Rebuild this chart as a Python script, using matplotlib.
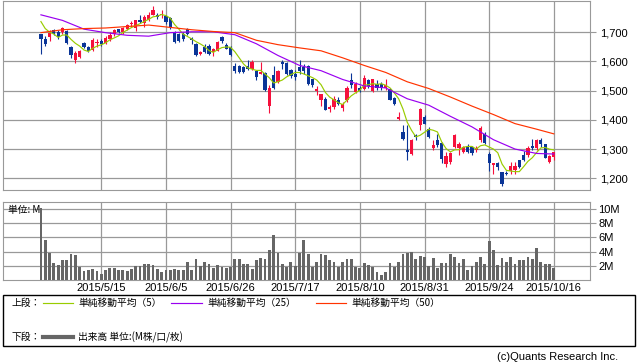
import matplotlib
matplotlib.use("Agg")
import matplotlib.pyplot as plt
from matplotlib.patches import Rectangle
from matplotlib.lines import Line2D
import numpy as np
import pandas as pd

W, H = 638, 362
CJK = ["Noto Sans CJK JP", "DejaVu Sans"]
NUM = ["Liberation Sans", "DejaVu Sans"]

# date labels (trading-day index -> label)
date_idx = [14, 29, 44, 59, 74, 89, 104, 119]
date_labels = ["2015/5/15", "2015/6/5", "2015/6/26", "2015/7/17",
               "2015/8/10", "2015/8/31", "2015/9/24", "2015/10/16"]

# daily candles
opens = [1692, 1677, 1683, 1706, 1700, 1700, 1704, 1649, 1603, 1615,
         1664, 1649, 1640, 1662, 1671, 1662, 1677, 1692, 1710, 1700,
         1711, 1726, 1715, 1743, 1731, 1743, 1760, 1759, 1757, 1755,
         1748, 1700, 1694, 1694, 1711, 1681, 1660, 1626, 1649, 1654,
         1632, 1637, 1683, 1657, 1649, 1584, 1583, 1580, 1583, 1575,
         1567, 1558, 1560, 1446, 1552, 1529, 1598, 1594, 1571, 1555,
         1581, 1581, 1583, 1538, 1499, 1467, 1472, 1438, 1444, 1469,
         1442, 1467, 1535, 1495, 1509, 1506, 1537, 1499, 1523, 1523,
         1510, 1506, 1476, 1404, 1359, 1296, 1282, 1347, 1381, 1410,
         1370, 1302, 1332, 1322, 1248, 1256, 1307, 1305, 1290, 1311,
         1307, 1296, 1330, 1353, 1282, 1244, 1251, 1220, 1219, 1225,
         1228, 1262, 1279, 1279, 1310, 1302, 1330, 1316, 1256, 1273]
highs = [1694, 1685, 1708, 1711, 1708, 1719, 1706, 1652, 1637, 1640,
         1666, 1654, 1681, 1677, 1677, 1685, 1700, 1711, 1712, 1717,
         1728, 1737, 1743, 1757, 1757, 1768, 1788, 1765, 1774, 1757,
         1751, 1703, 1697, 1700, 1715, 1683, 1662, 1635, 1658, 1660,
         1645, 1669, 1686, 1662, 1652, 1594, 1586, 1584, 1603, 1603,
         1569, 1598, 1563, 1518, 1583, 1571, 1605, 1598, 1575, 1569,
         1603, 1592, 1586, 1541, 1514, 1489, 1478, 1450, 1480, 1478,
         1461, 1516, 1560, 1529, 1514, 1552, 1541, 1541, 1535, 1529,
         1541, 1510, 1478, 1427, 1381, 1381, 1336, 1353, 1442, 1416,
         1376, 1330, 1353, 1325, 1290, 1290, 1353, 1325, 1310, 1316,
         1310, 1310, 1380, 1358, 1290, 1253, 1256, 1222, 1225, 1256,
         1256, 1264, 1294, 1310, 1336, 1333, 1339, 1319, 1279, 1290]
lows = [1626, 1652, 1671, 1691, 1677, 1694, 1660, 1612, 1594, 1612,
        1645, 1632, 1635, 1649, 1652, 1660, 1671, 1685, 1697, 1694,
        1706, 1717, 1703, 1731, 1717, 1737, 1757, 1744, 1749, 1728,
        1711, 1662, 1666, 1671, 1689, 1660, 1617, 1622, 1628, 1620,
        1617, 1635, 1662, 1641, 1617, 1560, 1560, 1560, 1571, 1569,
        1537, 1555, 1497, 1424, 1507, 1526, 1575, 1552, 1544, 1535,
        1558, 1555, 1518, 1512, 1484, 1446, 1433, 1427, 1438, 1450,
        1430, 1461, 1510, 1492, 1495, 1501, 1510, 1495, 1503, 1501,
        1501, 1467, 1449, 1398, 1332, 1264, 1279, 1332, 1364, 1385,
        1339, 1298, 1308, 1254, 1239, 1250, 1302, 1279, 1288, 1285,
        1280, 1290, 1325, 1316, 1225, 1216, 1230, 1175, 1210, 1216,
        1216, 1234, 1260, 1273, 1296, 1296, 1307, 1268, 1251, 1264]
closes = [1675, 1660, 1697, 1694, 1683, 1715, 1662, 1620, 1628, 1635,
          1648, 1637, 1674, 1666, 1658, 1681, 1689, 1706, 1701, 1714,
          1725, 1731, 1740, 1734, 1753, 1760, 1774, 1751, 1763, 1734,
          1717, 1666, 1671, 1677, 1694, 1674, 1620, 1632, 1632, 1626,
          1643, 1666, 1668, 1643, 1620, 1567, 1563, 1563, 1575, 1598,
          1546, 1563, 1501, 1510, 1510, 1567, 1592, 1555, 1549, 1546,
          1567, 1567, 1524, 1518, 1504, 1487, 1435, 1444, 1472, 1455,
          1455, 1510, 1518, 1523, 1499, 1544, 1515, 1538, 1510, 1510,
          1518, 1469, 1453, 1410, 1336, 1290, 1330, 1342, 1438, 1387,
          1342, 1313, 1313, 1265, 1276, 1285, 1347, 1316, 1307, 1290,
          1285, 1302, 1373, 1321, 1253, 1251, 1239, 1179, 1214, 1241,
          1241, 1239, 1264, 1305, 1302, 1330, 1319, 1271, 1276, 1290]

# volume in millions
volume = [10.1, 5.6, 3.85, 2.35, 2.1, 2.8, 2.8, 3.65, 3.5, 1.9,
          1.3, 1.4, 1.6, 1.3, 0.85, 1.4, 1.7, 1.7, 1.4, 1.4,
          1.3, 1.6, 2.0, 2.0, 2.25, 2.25, 2.05, 1.6, 1.1, 1.4,
          1.4, 1.6, 1.4, 1.4, 2.55, 1.4, 2.95, 2.0, 2.55, 2.25,
          1.7, 2.05, 1.9, 1.7, 1.9, 2.95, 2.95, 2.25, 2.25, 1.6,
          2.8, 3.05, 2.95, 4.3, 6.3, 3.85, 2.25, 1.9, 2.55, 2.0,
          3.85, 5.6, 3.65, 1.9, 2.55, 3.65, 3.5, 2.8, 2.6, 1.9,
          2.55, 2.95, 2.95, 1.9, 1.7, 2.35, 2.05, 1.9, 1.1, 0.65,
          1.1, 2.35, 1.9, 2.6, 3.65, 3.85, 3.95, 2.95, 3.4, 3.2,
          2.0, 3.05, 1.7, 2.35, 2.35, 3.6, 3.2, 2.35, 2.9, 1.4,
          2.0, 2.6, 3.3, 2.25, 5.55, 4.2, 2.05, 3.05, 2.55, 3.2,
          2.25, 2.8, 2.8, 3.2, 2.9, 4.45, 2.55, 2.25, 2.25, 1.7]

# first four 5-day MA points (need earlier data)
ma5_head = [1736, 1712, 1700, 1693]
# 25- and 50-day MA read every 5 sessions
ma_idx = [0, 5, 10, 15, 20, 25, 30, 35, 40, 45, 50, 55, 60,
          65, 70, 75, 80, 85, 90, 95, 100, 105, 110, 115, 119]
ma25 = [1759, 1740, 1710, 1698, 1689, 1686, 1698, 1701, 1701, 1691,
        1660, 1620, 1586, 1568, 1538, 1516, 1509, 1472, 1450, 1412,
        1376, 1332, 1300, 1285, 1283]
ma50 = [1698, 1708, 1712, 1714, 1719, 1724, 1716, 1708, 1702, 1698,
        1672, 1657, 1646, 1636, 1612, 1586, 1562, 1530, 1507, 1478,
        1447, 1418, 1387, 1368, 1352]

RED = "#f5103c"
BLUE = "#0a3597"
GRID = "#999999"

x = np.arange(len(closes))
ma5 = pd.Series(closes).rolling(5).mean().to_numpy()
ma5[:4] = ma5_head


def px_axes(fig, x0, y0, x1, y1):
    return fig.add_axes([x0 / W, 1 - y1 / H, (x1 - x0) / W, (y1 - y0) / H])


fig = plt.figure(figsize=(W / 100, H / 100), dpi=100)

# upper panel: candles + moving averages
ax = px_axes(fig, 3, 0.5, 590, 190)
o = np.array(opens)
c = np.array(closes)
cols = [RED if cc >= oo else BLUE for oo, cc in zip(o, c)]
body_lo = np.minimum(o, c)
body_h = np.maximum(np.abs(c - o), 1.5)
ax.vlines(x, lows, highs, colors=cols, lw=0.8, zorder=3)
ax.bar(x, body_h, bottom=body_lo, width=0.75, color=cols, zorder=3)
ax.plot(x, ma5, color="#99cc00", lw=0.85, zorder=4)
ax.plot(ma_idx, ma25, color="#9a00f0", lw=0.85, zorder=4)
ax.plot(ma_idx, ma50, color="#ff3300", lw=0.85, zorder=4)

ax.set_xlim(-8.8, 127.4)
ax.set_ylim(1160, 1808)
ax.set_xticks(date_idx)
ax.set_yticks([1200, 1300, 1400, 1500, 1600, 1700])
ax.set_yticklabels([f"{v:,}" for v in [1200, 1300, 1400, 1500, 1600, 1700]],
                   family=NUM, fontsize=8)
ax.yaxis.tick_right()
ax.tick_params(axis="x", length=0, labelbottom=False)
ax.tick_params(axis="y", length=4, width=0.8, color=GRID, pad=3)
ax.grid(True, color=GRID, lw=0.9)
ax.set_axisbelow(True)
for s in ax.spines.values():
    s.set_color(GRID)

# lower panel: volume
av = px_axes(fig, 3, 202, 590, 280)
av.bar(x, volume, width=0.65, color="#666666", zorder=3)
av.set_xlim(-8.8, 127.4)
av.set_ylim(0, 11.0)
av.set_yticks([2, 4, 6, 8, 10])
av.set_yticklabels(["2M", "4M", "6M", "8M", "10M"], family=NUM, fontsize=8)
av.yaxis.tick_right()
av.set_xticks(date_idx)
av.set_xticklabels(date_labels, family=NUM, fontsize=8)
av.tick_params(axis="x", length=0, pad=2)
av.tick_params(axis="y", length=4, width=0.8, color=GRID, pad=2)
av.grid(True, color=GRID, lw=0.9)
av.set_axisbelow(True)
for s in av.spines.values():
    s.set_color(GRID)
fig.text(8 / W, 1 - 210 / H, "単位: M", family=CJK, fontsize=7, va="center")

# legend box
fig.patches.append(Rectangle((3 / W, 1 - 346 / H), 632 / W, 51 / H,
                             transform=fig.transFigure, fill=False,
                             ec="black", lw=1.0))
y1 = 1 - 303 / H
y2 = 1 - 337 / H
fig.text(12 / W, y1, "上段：", family=CJK, fontsize=7, va="center")
fig.text(12 / W, y2, "下段：", family=CJK, fontsize=7, va="center")
legend_items = [(43, 73, 78, "#99cc00", "単純移動平均（5）"),
                (171, 202, 207, "#9a00f0", "単純移動平均（25）"),
                (316, 346, 351, "#ff3300", "単純移動平均（50）")]
for xa, xb, xt, col, label in legend_items:
    fig.add_artist(Line2D([xa / W, xb / W], [y1, y1], color=col, lw=0.85))
    fig.text(xt / W, y1, label, family=CJK, fontsize=7, va="center")
fig.add_artist(Line2D([43 / W, 73 / W], [y2, y2], color="#666666", lw=3))
fig.text(78 / W, y2, "出来高 単位:(M株/口/枚)", family=CJK, fontsize=7, va="center")

fig.text(618 / W, 1 - 357 / H, "(c)Quants Research Inc.", family=NUM,
         fontsize=8, ha="right", va="center")

fig.savefig("out.png", dpi=100)
